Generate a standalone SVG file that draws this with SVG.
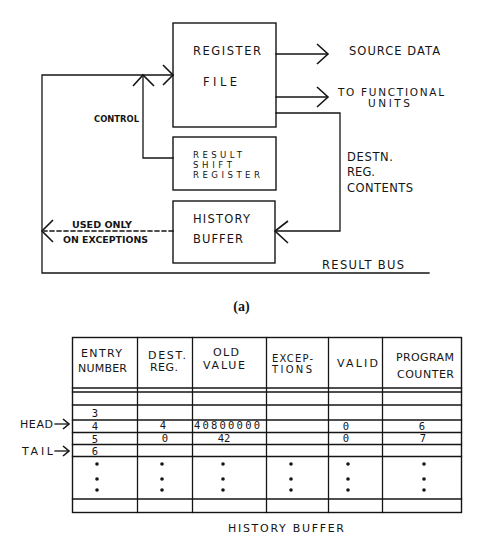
<svg xmlns="http://www.w3.org/2000/svg" width="492" height="539" viewBox="0 0 492 539">
<style>
  .ln{fill:none;stroke:#151515;stroke-width:1.3;stroke-linecap:square}
  .box{fill:none;stroke:#151515;stroke-width:1.4}
  .arr{fill:none;stroke:#151515;stroke-width:1.6;stroke-linejoin:miter}
  .t{font-family:"DejaVu Sans",sans-serif;font-size:11.5px;fill:#151515}
  .u{font-family:"DejaVu Sans",sans-serif;font-size:10.5px;fill:#151515}
  .s{font-family:"DejaVu Sans",sans-serif;font-size:8.6px;fill:#151515}
  .b{font-family:"DejaVu Sans",sans-serif;font-size:9px;font-weight:bold;fill:#151515}
  .h{font-family:"DejaVu Sans",sans-serif;font-size:11px;fill:#151515}
  .e{font-family:"DejaVu Sans",sans-serif;font-size:10px;fill:#151515}
  .d{font-family:"DejaVu Sans Mono",monospace;font-size:10.5px;fill:#151515;text-anchor:middle}
  .cap{font-family:"Liberation Serif",serif;font-size:14px;font-weight:bold;fill:#151515}
  .dot{fill:#151515}
</style>

<!-- connectors -->
<g id="connectors">
  <!-- feedback loop: result bus to register file -->
  <polyline class="ln" points="429,273 42,273 42,75 173,75"/>
  <polyline class="arr" points="163,65 173,75 163,85"/>
  <!-- control from result shift register -->
  <polyline class="ln" points="173,158 143,158 143,76"/>
  <polyline class="arr" points="133,86 143,75 154,86"/>
  <!-- source data -->
  <line class="ln" x1="276" y1="54" x2="327" y2="54"/>
  <polyline class="arr" points="317,44 328,54 317,64"/>
  <!-- to functional units -->
  <line class="ln" x1="276" y1="97" x2="327" y2="97"/>
  <polyline class="arr" points="317,87 328,97 317,107"/>
  <!-- destination register contents -->
  <polyline class="ln" points="276,113 340,113 340,231 276,231"/>
  <polyline class="arr" points="288,221 275,231 288,243"/>
  <!-- used only on exceptions (dashed) -->
  <line class="ln" x1="173" y1="231" x2="44" y2="231" stroke-dasharray="4,3" stroke-linecap="butt"/>
  <polyline class="arr" points="53,220 42,231 53,242"/>
</g>

<g id="register-file">
  <rect class="box" x="173" y="23" width="103" height="104"/>
  <text class="t" x="193" y="55" textLength="68" lengthAdjust="spacing">REGISTER</text>
  <text class="t" x="203" y="86" textLength="34" lengthAdjust="spacing">FILE</text>
</g>

<g id="result-shift-register">
  <rect class="box" x="173" y="137" width="103" height="53"/>
  <text class="s" x="193" y="158" textLength="49" lengthAdjust="spacing">RESULT</text>
  <text class="s" x="193" y="168" textLength="39" lengthAdjust="spacing">SHIFT</text>
  <text class="s" x="193" y="178" textLength="67" lengthAdjust="spacing">REGISTER</text>
</g>

<g id="history-buffer">
  <rect class="box" x="173" y="201" width="102" height="62"/>
  <text class="t" x="193" y="223" textLength="57" lengthAdjust="spacing">HISTORY</text>
  <text class="t" x="193" y="243" textLength="50" lengthAdjust="spacing">BUFFER</text>
</g>

<g id="labels">
  <text class="t" x="349" y="55" textLength="91" lengthAdjust="spacing">SOURCE DATA</text>
  <text class="u" x="338" y="96" textLength="106" lengthAdjust="spacing">TO FUNCTIONAL</text>
  <text class="u" x="368" y="107" textLength="42" lengthAdjust="spacing">UNITS</text>
  <text class="t" x="347" y="161" textLength="46" lengthAdjust="spacing">DESTN.</text>
  <text class="t" x="347" y="176" textLength="28" lengthAdjust="spacing">REG.</text>
  <text class="t" x="347" y="192" textLength="66" lengthAdjust="spacing">CONTENTS</text>
  <text class="t" x="322" y="269" textLength="82" lengthAdjust="spacing">RESULT BUS</text>
  <text class="b" x="94" y="122" textLength="45" lengthAdjust="spacingAndGlyphs">CONTROL</text>
  <text class="b" x="72" y="228" textLength="60" lengthAdjust="spacingAndGlyphs">USED ONLY</text>
  <text class="b" x="63" y="243" textLength="85" lengthAdjust="spacingAndGlyphs">ON EXCEPTIONS</text>
  <text class="cap" x="241.5" y="311" text-anchor="middle">(a)</text>
</g>

<g id="history-buffer-table">
  <!-- outer and grid -->
  <rect class="box" x="72.5" y="337.5" width="389" height="175"/>
  <g class="ln">
    <line x1="72.5" y1="388" x2="461.5" y2="388"/>
    <line x1="72.5" y1="392" x2="461.5" y2="392"/>
    <line x1="72.5" y1="405" x2="461.5" y2="405"/>
    <line x1="72.5" y1="420" x2="461.5" y2="420"/>
    <line x1="72.5" y1="432.5" x2="461.5" y2="432.5"/>
    <line x1="72.5" y1="444.5" x2="461.5" y2="444.5"/>
    <line x1="72.5" y1="456.5" x2="461.5" y2="456.5"/>
    <line x1="72.5" y1="499" x2="461.5" y2="499"/>
    <line x1="137.5" y1="337.5" x2="137.5" y2="512.5"/>
    <line x1="192.5" y1="337.5" x2="192.5" y2="512.5"/>
    <line x1="266.5" y1="337.5" x2="266.5" y2="512.5"/>
    <line x1="328.5" y1="337.5" x2="328.5" y2="512.5"/>
    <line x1="382.5" y1="337.5" x2="382.5" y2="512.5"/>
  </g>
  <!-- headers -->
  <text class="h" x="81" y="357" textLength="41" lengthAdjust="spacing">ENTRY</text>
  <text class="h" x="78" y="372" textLength="49" lengthAdjust="spacing">NUMBER</text>
  <text class="h" x="148" y="359" textLength="38" lengthAdjust="spacing">DEST.</text>
  <text class="h" x="150" y="371" textLength="28" lengthAdjust="spacing">REG.</text>
  <text class="h" x="213" y="356" textLength="26" lengthAdjust="spacing">OLD</text>
  <text class="h" x="203" y="369" textLength="42" lengthAdjust="spacing">VALUE</text>
  <text class="e" x="272" y="362" textLength="41" lengthAdjust="spacing">EXCEP-</text>
  <text class="e" x="272" y="373" textLength="40" lengthAdjust="spacing">TIONS</text>
  <text class="h" x="337" y="367" textLength="41" lengthAdjust="spacing">VALID</text>
  <text class="h" x="396" y="361" textLength="58" lengthAdjust="spacing">PROGRAM</text>
  <text class="h" x="397" y="378" textLength="57" lengthAdjust="spacing">COUNTER</text>
  <!-- data -->
  <text class="d" x="95" y="417">3</text>
  <text class="d" x="95" y="430">4</text>
  <text class="d" x="163" y="429">4</text>
  <text class="d" x="227" y="429" textLength="66" lengthAdjust="spacing">40800000</text>
  <text class="d" x="346" y="430">0</text>
  <text class="d" x="422" y="430">6</text>
  <text class="d" x="95" y="443">5</text>
  <text class="d" x="165" y="442">0</text>
  <text class="d" x="224" y="442">42</text>
  <text class="d" x="346" y="442">0</text>
  <text class="d" x="423" y="442">7</text>
  <text class="d" x="95" y="455">6</text>
  <!-- continuation dots -->
  <g class="dot">
    <circle cx="97" cy="464" r="1.8"/><circle cx="97" cy="479" r="1.8"/><circle cx="97" cy="490" r="1.8"/>
    <circle cx="162" cy="464" r="1.8"/><circle cx="162" cy="479" r="1.8"/><circle cx="162" cy="490" r="1.8"/>
    <circle cx="223" cy="464" r="1.8"/><circle cx="223" cy="479" r="1.8"/><circle cx="223" cy="490" r="1.8"/>
    <circle cx="291" cy="464" r="1.8"/><circle cx="291" cy="479" r="1.8"/><circle cx="291" cy="490" r="1.8"/>
    <circle cx="348" cy="464" r="1.8"/><circle cx="348" cy="479" r="1.8"/><circle cx="348" cy="490" r="1.8"/>
    <circle cx="424" cy="464" r="1.8"/><circle cx="424" cy="479" r="1.8"/><circle cx="424" cy="490" r="1.8"/>
  </g>
  <!-- pointers -->
  <text class="h" x="20" y="428" textLength="33" lengthAdjust="spacing">HEAD</text>
  <line class="ln" x1="55" y1="424" x2="68" y2="424" stroke-width="1.8"/>
  <polyline class="arr" points="63,419 69,424 63,429" stroke-width="2.2"/>
  <text class="h" x="22" y="455" textLength="31" lengthAdjust="spacing">TAIL</text>
  <line class="ln" x1="55" y1="451" x2="68" y2="451" stroke-width="1.8"/>
  <polyline class="arr" points="63,446 69,451 63,456" stroke-width="2.2"/>
  <text class="h" x="228" y="532" textLength="116" lengthAdjust="spacing">HISTORY BUFFER</text>
</g>
</svg>
